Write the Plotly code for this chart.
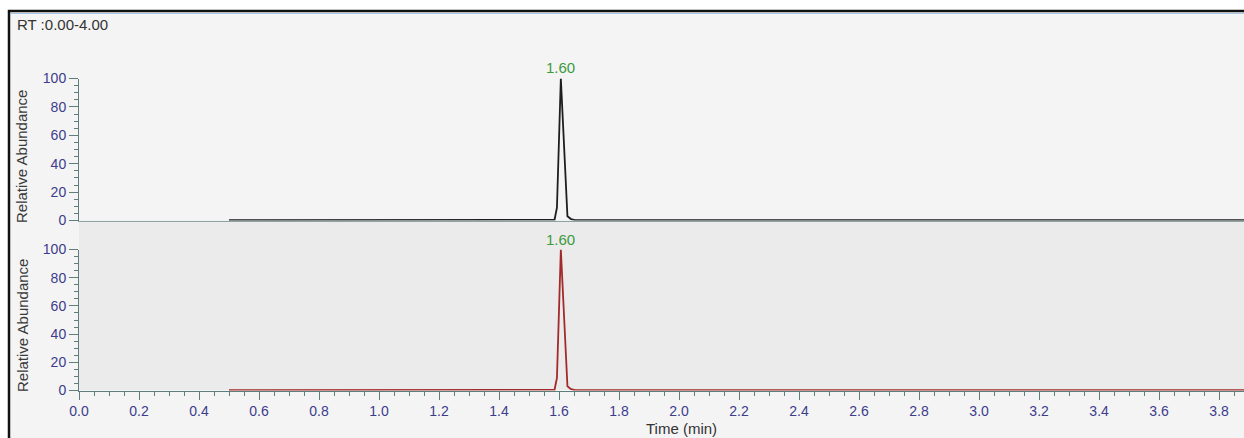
import plotly.graph_objects as go

# ---- data ----
time_top = [0.50, 1.00, 1.50, 1.585, 1.593, 1.606, 1.628, 1.640, 1.653, 2.00, 3.00, 3.883]
abund_top = [0.3, 0.3, 0.3, 0.5, 9.0, 100.0, 3.0, 1.0, 0.3, 0.3, 0.3, 0.3]
time_bot = [0.50, 1.00, 1.50, 1.585, 1.593, 1.606, 1.628, 1.640, 1.653, 2.00, 3.00, 3.883]
abund_bot = [0.2, 0.2, 0.2, 0.5, 9.0, 100.0, 3.0, 1.0, 0.2, 0.2, 0.2, 0.2]
peak_rt = 1.605
peak_label = "1.60"
y_ticks = [0, 20, 40, 60, 80, 100]
x_range = [0.0, 3.883]

W, H = 1244, 438
def px(x):
    return x / W
def py(y):
    return 1 - y / H

FONT = "Arial, Liberation Sans, sans-serif"
TICKCOL = "#5f7d7b"
LABCOL = "#3c3c8c"

fig = go.Figure()
fig.add_trace(go.Scatter(x=time_top, y=abund_top, mode="lines",
                         line=dict(color="#1e1e1e", width=1.8), xaxis="x", yaxis="y",
                         showlegend=False, hoverinfo="skip"))
fig.add_trace(go.Scatter(x=time_bot, y=abund_bot, mode="lines",
                         line=dict(color="#a32a2a", width=1.8), xaxis="x2", yaxis="y2",
                         showlegend=False, hoverinfo="skip"))

yax_common = dict(range=[0, 100], tickmode="array", tickvals=y_ticks,
                  showline=True, linecolor=TICKCOL, linewidth=1,
                  ticks="outside", ticklen=9, tickwidth=1, tickcolor=TICKCOL,
                  showgrid=False, zeroline=False, automargin=False,
                  tickfont=dict(family=FONT, size=14, color=LABCOL),
                  minor=dict(dtick=5, tick0=0, ticks="outside", ticklen=4,
                             tickcolor=TICKCOL, showgrid=False),
                  fixedrange=True)

xdom = [px(79), 1.0]
fig.update_layout(
    template="none",
    width=W, height=H,
    margin=dict(l=0, r=0, t=0, b=0, pad=0, autoexpand=False),
    showlegend=False,
    paper_bgcolor="white",
    plot_bgcolor="rgba(0,0,0,0)",
    xaxis=dict(domain=xdom, range=x_range, anchor="y", showline=True,
               linecolor="#8fa3a3", linewidth=1, ticks="", showticklabels=False,
               showgrid=False, zeroline=False, automargin=False),
    yaxis=dict(domain=[py(220.5), py(78.5)], anchor="x", **yax_common),
    xaxis2=dict(domain=xdom, range=x_range, anchor="y2", showline=True,
                linecolor=TICKCOL, linewidth=1, ticks="outside", ticklen=8,
                tickcolor=TICKCOL, dtick=0.2, tick0=0, tickformat=".1f",
                tickfont=dict(family=FONT, size=14, color=LABCOL),
                minor=dict(dtick=0.05, tick0=0, ticks="outside", ticklen=4,
                           tickcolor=TICKCOL, showgrid=False),
                showgrid=False, zeroline=False, automargin=False),
    yaxis2=dict(domain=[py(390.5), py(249.5)], anchor="x2", **yax_common),
    shapes=[
        dict(type="rect", xref="paper", yref="paper", layer="below",
             x0=px(9), x1=1.05, y0=-0.05, y1=py(11),
             fillcolor="#f4f4f4", line=dict(color="#111111", width=2.5)),
        dict(type="line", xref="paper", yref="paper", layer="below",
             x0=px(10.5), x1=1.0, y0=py(13.5), y1=py(13.5),
             line=dict(color="#a9c8e6", width=1)),
        dict(type="rect", xref="paper", yref="paper", layer="below",
             x0=px(79), x1=1.0, y0=py(390), y1=py(220.5),
             fillcolor="#ebebeb", line=dict(width=0)),
    ],
    annotations=[
        dict(text="RT :0.00-4.00", xref="paper", yref="paper", x=px(15), y=py(25),
             xanchor="left", yanchor="middle", showarrow=False,
             font=dict(family=FONT, size=15, color="#333333")),
        dict(text="Relative Abundance", xref="paper", yref="paper", x=px(22), y=py(157),
             textangle=-90, xanchor="center", yanchor="middle", showarrow=False,
             font=dict(family=FONT, size=15, color="#3a3a3a")),
        dict(text="Relative Abundance", xref="paper", yref="paper", x=px(22), y=py(326),
             textangle=-90, xanchor="center", yanchor="middle", showarrow=False,
             font=dict(family=FONT, size=15, color="#3a3a3a")),
        dict(text="Time (min)", xref="paper", yref="paper", x=px(681), y=py(428),
             xanchor="center", yanchor="middle", showarrow=False,
             font=dict(family=FONT, size=15, color="#333333")),
        dict(text=peak_label, xref="x", yref="y", x=peak_rt, y=100,
             xanchor="center", yanchor="bottom", yshift=0, showarrow=False,
             font=dict(family=FONT, size=15, color="#3c9a3c")),
        dict(text=peak_label, xref="x2", yref="y2", x=peak_rt, y=100,
             xanchor="center", yanchor="bottom", yshift=0, showarrow=False,
             font=dict(family=FONT, size=15, color="#3c9a3c")),
    ],
)

fig.write_html("out.html", config={"displayModeBar": False},
               post_script="document.body.style.margin='0';document.body.style.overflow='hidden';")
